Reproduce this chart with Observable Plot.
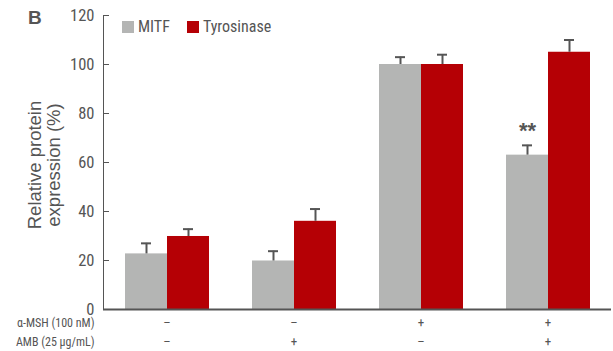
<!DOCTYPE html>
<html>
<head>
<meta charset="utf-8">
<script src="https://cdn.jsdelivr.net/npm/d3@7"></script>
<script src="https://cdn.jsdelivr.net/npm/@observablehq/plot@0.6"></script>
<style>
  html, body { margin: 0; padding: 0; background: #fff; }
  #wrap { position: relative; width: 613px; height: 351px; }
  .narrow { font-family: "Liberation Sans Narrow", "Roboto Condensed", "DejaVu Sans Condensed", sans-serif; }
  #legend { position: absolute; left: 122px; top: 17px; display: flex; align-items: center; font-size: 16px; color: #555; }
  #legend .sw { width: 12px; height: 12px; display: inline-block; margin-right: 4px; }
  #legend .item { display: flex; align-items: center; margin-right: 17px; }
  #ytitle { position: absolute; left: 44px; top: 165px; transform: translate(-50%, -50%) rotate(-90deg);
            font-family: "Liberation Sans", Arial, sans-serif; font-size: 18.5px; line-height: 19px;
            color: #555; text-align: center; white-space: nowrap; }
  #panel { position: absolute; left: 28px; top: 7px; font-family: "Liberation Sans", Arial, sans-serif;
           font-size: 19px; font-weight: bold; color: #555; }
</style>
</head>
<body>
<div id="wrap">
  <div id="chart"></div>
  <div id="legend" class="narrow"></div>
  <div id="ytitle"></div>
  <div id="panel"></div>
</div>
<script>
const groups = ["G1", "G2", "G3", "G4"];
const series = ["MITF", "Tyrosinase"];
const colors = ["#b4b5b4", "#b50005"];
const mitf = [22.7, 19.8, 100, 63];
const mitfErr = [4.3, 4, 3, 4];
const tyr = [29.8, 36, 100, 105];
const tyrErr = [3, 5, 4, 5];
const mitfMark = ["", "", "", "**"];
const mshRow = ["–", "–", "+", "+"];
const ambRow = ["–", "+", "–", "+"];
const rowLabels = ["α-MSH (100 nM)", "AMB (25 μg/mL)"];
const yTicks = [0, 20, 40, 60, 80, 100, 120];
const yTitle = ["Relative protein", "expression (%)"];
const panelLabel = "B";

const data = [];
groups.forEach((g, i) => {
  data.push({group: g, series: "MITF", value: mitf[i], err: mitfErr[i], mark: mitfMark[i]});
  data.push({group: g, series: "Tyrosinase", value: tyr[i], err: tyrErr[i], mark: ""});
});

const ink = "#555";
const narrow = "'Liberation Sans Narrow', 'Roboto Condensed', 'DejaVu Sans Condensed', sans-serif";

const plot = Plot.plot({
  width: 613,
  height: 351,
  marginTop: 15,
  marginBottom: 42,
  marginLeft: 102,
  marginRight: 1,
  style: {fontFamily: narrow, fontSize: "16.5px", color: ink, background: "#fff", overflow: "visible"},
  fx: {domain: groups, padding: 0, axis: null},
  x: {domain: series, paddingInner: 0, paddingOuter: 0.5, axis: null},
  y: {domain: [0, 120], ticks: yTicks, tickSize: -6, tickPadding: 15, line: true, label: null},
  color: {domain: series, range: colors},
  marks: [
    Plot.barY(data, {fx: "group", x: "series", y: "value", fill: "series"}),
    Plot.ruleX(data, {fx: "group", x: "series", y1: "value", y2: d => d.value + d.err, stroke: ink, strokeWidth: 2}),
    Plot.tickY(data, {fx: "group", x: "series", y: d => d.value + d.err, stroke: ink, strokeWidth: 2, insetLeft: 16, insetRight: 16}),
    Plot.text(data.filter(d => d.mark), {fx: "group", x: "series", y: d => d.value + d.err, text: "mark", dy: -14, fontSize: 22, fontWeight: "bold", fill: ink, fontFamily: "Liberation Sans, Arial, sans-serif"}),
    Plot.ruleY([0], {stroke: ink, strokeWidth: 2}),
    Plot.text(groups, {fx: d => d, text: (d, i) => mshRow[i], frameAnchor: "bottom", dy: 17, fontSize: 13, fill: ink}),
    Plot.text(groups, {fx: d => d, text: (d, i) => ambRow[i], frameAnchor: "bottom", dy: 36, fontSize: 13, fill: ink}),
    Plot.text([rowLabels[0]], {fx: () => groups[0], text: d => d, frameAnchor: "bottom-left", textAnchor: "end", dx: -9, dy: 17.5, fontSize: 12, fill: ink}),
    Plot.text([rowLabels[1]], {fx: () => groups[0], text: d => d, frameAnchor: "bottom-left", textAnchor: "end", dx: -9, dy: 36, fontSize: 12, fill: ink}),
    Plot.ruleX([0], {fx: () => groups[groups.length - 1], frameAnchor: "right", y1: 0, y2: 2, stroke: ink, strokeWidth: 1.5})
  ]
});
document.getElementById("chart").appendChild(plot);

const legend = document.getElementById("legend");
series.forEach((s, i) => {
  const item = document.createElement("span");
  item.className = "item";
  const sw = document.createElement("span");
  sw.className = "sw";
  sw.style.background = colors[i];
  item.appendChild(sw);
  item.appendChild(document.createTextNode(s));
  legend.appendChild(item);
});
document.getElementById("ytitle").innerHTML = yTitle.join("<br>");
document.getElementById("panel").textContent = panelLabel;
</script>
</body>
</html>
